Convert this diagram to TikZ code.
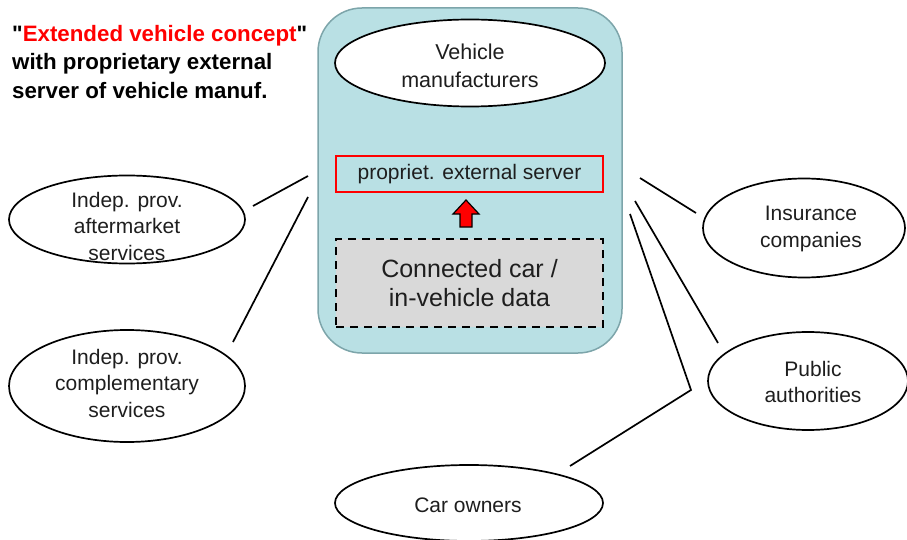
\documentclass[tikz,border=0pt]{standalone}
\usepackage{fontspec}
\setmainfont{Liberation Sans}[Ligatures=TeXOff]
\usetikzlibrary{shapes.geometric}
\definecolor{panelblue}{RGB}{185,224,228}
\definecolor{panelrim}{RGB}{125,165,170}
\definecolor{datagray}{RGB}{217,217,217}
\definecolor{txtdark}{RGB}{30,30,30}
\definecolor{hotred}{RGB}{255,0,0}
\begin{document}
\begin{tikzpicture}[x=1pt,y=-1pt,
  actor/.style={ellipse,draw=black,line width=1.7pt,fill=white,inner sep=0pt},
  lbl/.style={align=center,text=txtdark,font=\fontsize{21}{26.5}\selectfont},
  link/.style={draw=black,line width=1.7pt}]
\useasboundingbox (0,0) rectangle (907,540);

% manufacturer panel
\node[draw=panelrim,line width=1.5pt,fill=panelblue,rounded corners=44pt,
      minimum width=304pt,minimum height=345pt,inner sep=0pt] (panel) at (470,180.5) {};
\node[actor,minimum width=270pt,minimum height=87pt] (oem) at (470,63) {};
\node[lbl,font=\fontsize{21.5}{27.5}\selectfont] (oemtxt) at (470,66) {Vehicle\\manufacturers};

% proprietary server
\node[draw=hotred,line width=1.8pt,minimum width=267pt,minimum height=36pt,inner sep=0pt,
      font=\fontsize{21}{24}\selectfont,text=txtdark] (server) at (469.5,174) {propriet. external server};

% connected car data
\node[draw=black,dashed,dash pattern=on 8pt off 6pt,line width=2pt,fill=datagray,
      minimum width=267pt,minimum height=88pt,inner sep=0pt,align=center,
      font=\fontsize{25}{29}\selectfont,text=txtdark] (cardata) at (469.5,283) {Connected car /\\in-vehicle data};

% upward block arrow from data to server
\draw[fill=hotred,line width=1.2pt,line join=miter]
  (460,227) -- (460,214) -- (453,214) -- (466,200) -- (479,214) -- (472,214) -- (472,227) -- cycle;

% heading
\node[anchor=north west,align=left,font=\bfseries\fontsize{22.3}{28.5}\selectfont,inner sep=0pt] (title) at (12,25)
  {"\textcolor{hotred}{Extended vehicle concept}"\\with proprietary external\\server of vehicle manuf.};

% stakeholders
\node[actor,minimum width=236pt,minimum height=88pt] (aft) at (127,219.5) {};
\node[lbl] (afttxt) at (127,226) {Indep. prov.\\aftermarket\\services};
\node[actor,minimum width=236pt,minimum height=112pt] (comp) at (127,386) {};
\node[lbl] (comptxt) at (127,383) {Indep. prov.\\complementary\\services};
\node[actor,minimum width=202pt,minimum height=99pt] (ins) at (804,228) {};
\node[lbl] (instxt) at (811,229) {Insurance\\companies};
\node[actor,minimum width=200pt,minimum height=98pt] (pub) at (808,381) {};
\node[lbl] (pubtxt) at (813,382) {Public\\authorities};
\node[actor,minimum width=268pt,minimum height=76pt] (own) at (469,503) {};
\node[lbl] (owntxt) at (468,505) {Car owners};

% connector ends
\coordinate (aftA) at (253,206);
\coordinate (aftB) at (308,176);
\coordinate (compA) at (233,342);
\coordinate (compB) at (308,197);
\coordinate (insA) at (640,178);
\coordinate (insB) at (696,213);
\coordinate (pubA) at (635,201);
\coordinate (pubB) at (718,343);
\coordinate (ownA) at (630,214);
\coordinate (ownK) at (691,390);
\coordinate (ownB) at (570,466);

\draw[link] (aftA) -- (aftB);
\draw[link] (compA) -- (compB);
\draw[link] (insA) -- (insB);
\draw[link] (pubA) -- (pubB);
\draw[link,line join=miter] (ownA) -- (ownK) -- (ownB);
\end{tikzpicture}
\end{document}
